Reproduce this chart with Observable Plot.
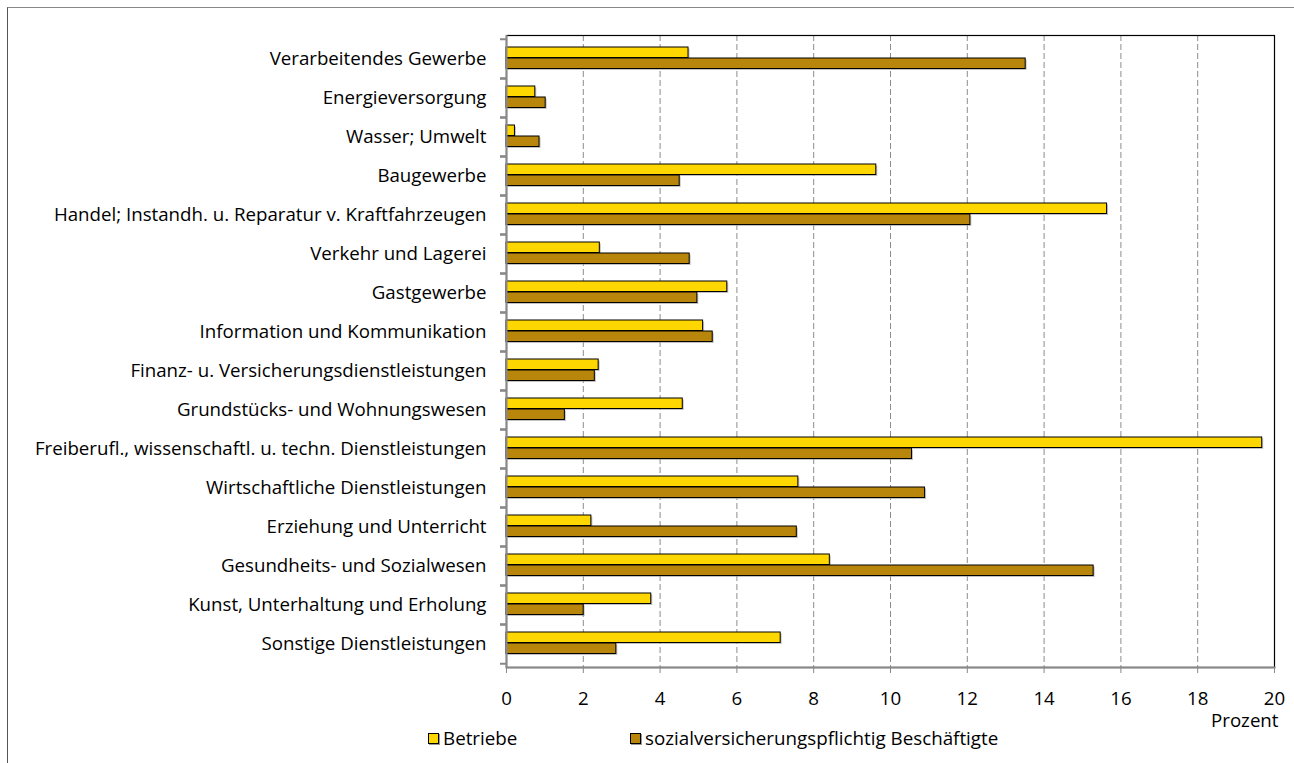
<!DOCTYPE html>
<html>
<head>
<meta charset="utf-8">
<script src="https://cdn.jsdelivr.net/npm/d3@7"></script>
<script src="https://cdn.jsdelivr.net/npm/@observablehq/plot@0.6"></script>
<style>
  html, body { margin: 0; padding: 0; background: #fff; }
  #wrap { position: relative; width: 1294px; height: 763px; overflow: hidden; font-family: "Open Sans", Lato, sans-serif; }
  #border { position: absolute; left: 7px; top: 7px; right: -10px; bottom: -10px; border-left: 1.5px solid #555; border-top: 1.5px solid #888; }
  #chart { position: absolute; left: 0; top: 0; }
  .legend { position: absolute; top: 725px; font-size: 18.8px; color: #000; display: flex; align-items: center; white-space: nowrap; }
  .sw { display: inline-block; width: 9px; height: 9px; border: 1px solid #000; margin-right: 4px; box-shadow: 1px 1px 0 #999; }
</style>
</head>
<body>
<div id="wrap">
  <div id="border"></div>
  <div id="chart"></div>
  <div class="legend" id="leg0" style="left:428px"></div>
  <div class="legend" id="leg1" style="left:630px"></div>
</div>
<script>
const categories = [
  "Verarbeitendes Gewerbe",
  "Energieversorgung",
  "Wasser; Umwelt",
  "Baugewerbe",
  "Handel; Instandh. u. Reparatur v. Kraftfahrzeugen",
  "Verkehr und Lagerei",
  "Gastgewerbe",
  "Information und Kommunikation",
  "Finanz- u. Versicherungsdienstleistungen",
  "Grundstücks- und Wohnungswesen",
  "Freiberufl., wissenschaftl. u. techn. Dienstleistungen",
  "Wirtschaftliche Dienstleistungen",
  "Erziehung und Unterricht",
  "Gesundheits- und Sozialwesen",
  "Kunst, Unterhaltung und Erholung",
  "Sonstige Dienstleistungen"
];
const betriebe = [4.74, 0.75, 0.22, 9.63, 15.64, 2.43, 5.75, 5.12, 2.40, 4.59, 19.68, 7.60, 2.21, 8.42, 3.77, 7.14];
const beschaeftigte = [13.52, 1.02, 0.86, 4.51, 12.08, 4.77, 4.97, 5.37, 2.30, 1.52, 10.56, 10.90, 7.56, 15.29, 2.01, 2.86];
const seriesNames = ["Betriebe", "sozialversicherungspflichtig Beschäftigte"];
const seriesColors = ["#FFD700", "#B8860B"];
const xTicks = [0, 2, 4, 6, 8, 10, 12, 14, 16, 18, 20];
const xLabel = "Prozent";

const rowsB = categories.map((c, i) => ({category: c, value: betriebe[i]}));
const rowsE = categories.map((c, i) => ({category: c, value: beschaeftigte[i]}));

const H = 730, MT = 35, MB = 63;
const band = (H - MT - MB) / categories.length;

const chart = Plot.plot({
  width: 1294,
  height: H,
  marginTop: MT,
  marginBottom: MB,
  marginLeft: 506,
  marginRight: 20,
  style: {fontFamily: "'Open Sans', Lato, sans-serif", fontSize: "18.7px", color: "#000", background: "transparent", overflow: "visible"},
  x: {domain: [0, 20], ticks: xTicks},
  y: {domain: categories, padding: 0},
  marks: [
    Plot.ruleX(xTicks.filter(t => t > 0 && t < 20), {stroke: "#8c8c8c", strokeDasharray: "6,3", strokeWidth: 1}),
    Plot.frame({stroke: "#000", strokeWidth: 1.2}),
    Plot.barX(rowsB, {x: "value", y: "category", fill: "#999", fillOpacity: 0.6, insetTop: 8, insetBottom: 20.5, dx: 1.5, dy: 1.5}),
    Plot.barX(rowsE, {x: "value", y: "category", fill: "#999", fillOpacity: 0.6, insetTop: 19, insetBottom: 9.5, dx: 1.5, dy: 1.5}),
    Plot.barX(rowsB, {x: "value", y: "category", fill: seriesColors[0], stroke: "#000", strokeWidth: 1, insetTop: 8, insetBottom: 20.5}),
    Plot.barX(rowsE, {x: "value", y: "category", fill: seriesColors[1], stroke: "#000", strokeWidth: 1, insetTop: 19, insetBottom: 9.5}),
    Plot.ruleX([0], {stroke: "#888", strokeWidth: 2}),
    Plot.frame({anchor: "bottom", stroke: "#888", strokeWidth: 2}),
    Plot.axisX({ticks: xTicks, tickSize: 6, tickPadding: 18, stroke: "#888", label: null}),
    Plot.text([xLabel], {frameAnchor: "bottom-right", textAnchor: "end", dx: 4, dy: 59, fill: "#000"}),
    Plot.axisY({tickSize: 0, tickPadding: 20, label: null}),
    Plot.axisY({tickSize: 6, tickFormat: () => "", dy: -band / 2, label: null, stroke: "#888", strokeWidth: 2}),
    Plot.axisY({tickSize: 6, tickFormat: () => "", dy: band / 2, label: null, stroke: "#888", strokeWidth: 2})
  ]
});
document.getElementById("chart").appendChild(chart);

seriesNames.forEach((name, i) => {
  const el = document.getElementById("leg" + i);
  const sw = document.createElement("span");
  sw.className = "sw";
  sw.style.background = seriesColors[i];
  el.appendChild(sw);
  el.appendChild(document.createTextNode(name));
});
</script>
</body>
</html>
